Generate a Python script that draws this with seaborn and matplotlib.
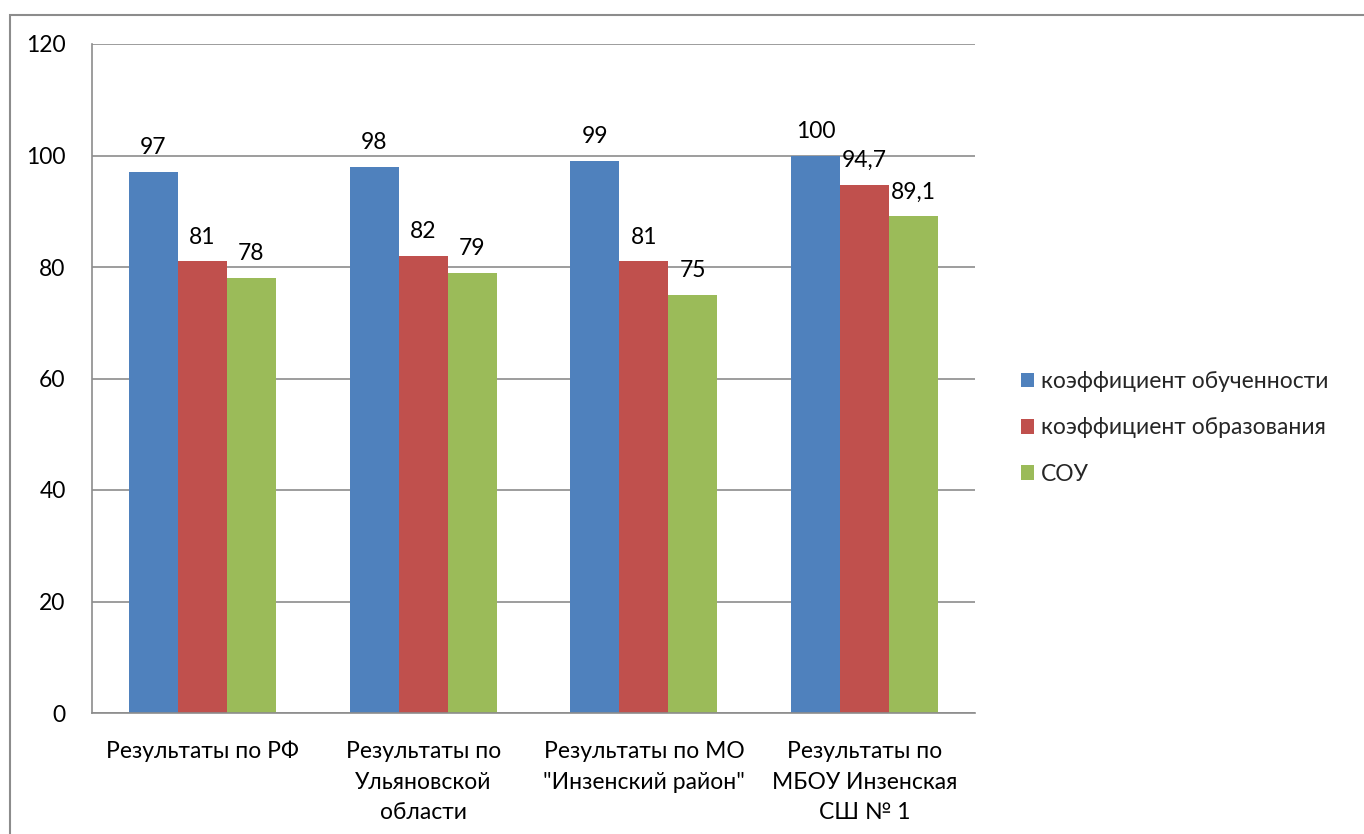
import matplotlib
matplotlib.use("Agg")
import matplotlib.pyplot as plt
import seaborn as sns
import pandas as pd
from matplotlib.patches import Rectangle, Patch

categories = ['Результаты по РФ', 'Результаты по\nУльяновской\nобласти',
              'Результаты по МО\n"Инзенский район"', 'Результаты по\nМБОУ Инзенская\nСШ № 1']
series = ['коэффициент обученности', 'коэффициент образования', 'СОУ']
obuch = [97, 98, 99, 100]
obraz = [81, 82, 81, 94.7]
sou = [78, 79, 75, 89.1]
yticks = [0, 20, 40, 60, 80, 100, 120]
colors = ['#4F81BD', '#C0504D', '#9BBB59']

rows = []
for s, vals in zip(series, [obuch, obraz, sou]):
    for c, v in zip(categories, vals):
        rows.append({'cat': c, 'series': s, 'value': v})
df = pd.DataFrame(rows)

sns.set_theme(style='white')
plt.rcParams['font.family'] = ['Lato', 'DejaVu Sans']
FS = 16.5

fig = plt.figure(figsize=(13.64, 8.34), dpi=100)
ax = fig.add_axes([92/1364, 1-713/834, (975-92)/1364, (713-44)/834])

sns.barplot(data=df, x='cat', y='value', hue='series', order=categories,
            hue_order=series, palette=colors, width=0.667, saturation=1,
            linewidth=0, ax=ax, legend=False)

ax.set_xlim(-0.5, 3.5)
ax.set_ylim(0, 120)
ax.set_yticks(yticks)
ax.set_yticklabels([str(t) for t in yticks], fontsize=FS, color='black')
ax.yaxis.grid(True, color='#8C8C8C', linewidth=1.2)
ax.set_axisbelow(True)
ax.set_xlabel('')
ax.set_ylabel('')
ax.set_xticks(range(len(categories)))
ax.set_xticklabels(categories, fontsize=FS, color='black', linespacing=1.58)
ax.set_xticks([-0.5, 0.5, 1.5, 2.5, 3.5], minor=True)
ax.tick_params(axis='x', which='major', length=0, pad=20)
ax.tick_params(axis='x', which='minor', length=6, color='#8C8C8C', width=1.2, direction='out')
ax.tick_params(axis='y', which='major', length=7, color='#8C8C8C', width=1.2, direction='out', pad=12)
for side in ['top', 'right']:
    ax.spines[side].set_visible(False)
for side in ['left', 'bottom']:
    ax.spines[side].set_color('#8C8C8C')
    ax.spines[side].set_linewidth(1.2)

for cont in ax.containers:
    labels = [f'{v:g}'.replace('.', ',') for v in cont.datavalues]
    ax.bar_label(cont, labels=labels, padding=10, fontsize=FS, color='black')

handles = [Patch(facecolor=c, edgecolor='none') for c in colors]
fig.legend(handles, series, loc='center left', bbox_to_anchor=(1000/1364, 1-428/834),
           frameon=False, fontsize=FS, handlelength=0.6, handleheight=0.6,
           handletextpad=0.3, labelspacing=1.1)

fig.patches.append(Rectangle((10/1364, -0.1), 1.2, 1-15/834+0.1, transform=fig.transFigure,
                             fill=False, edgecolor='#8C8C8C', linewidth=1.5))

fig.savefig('out.png', dpi=100, facecolor='white')
